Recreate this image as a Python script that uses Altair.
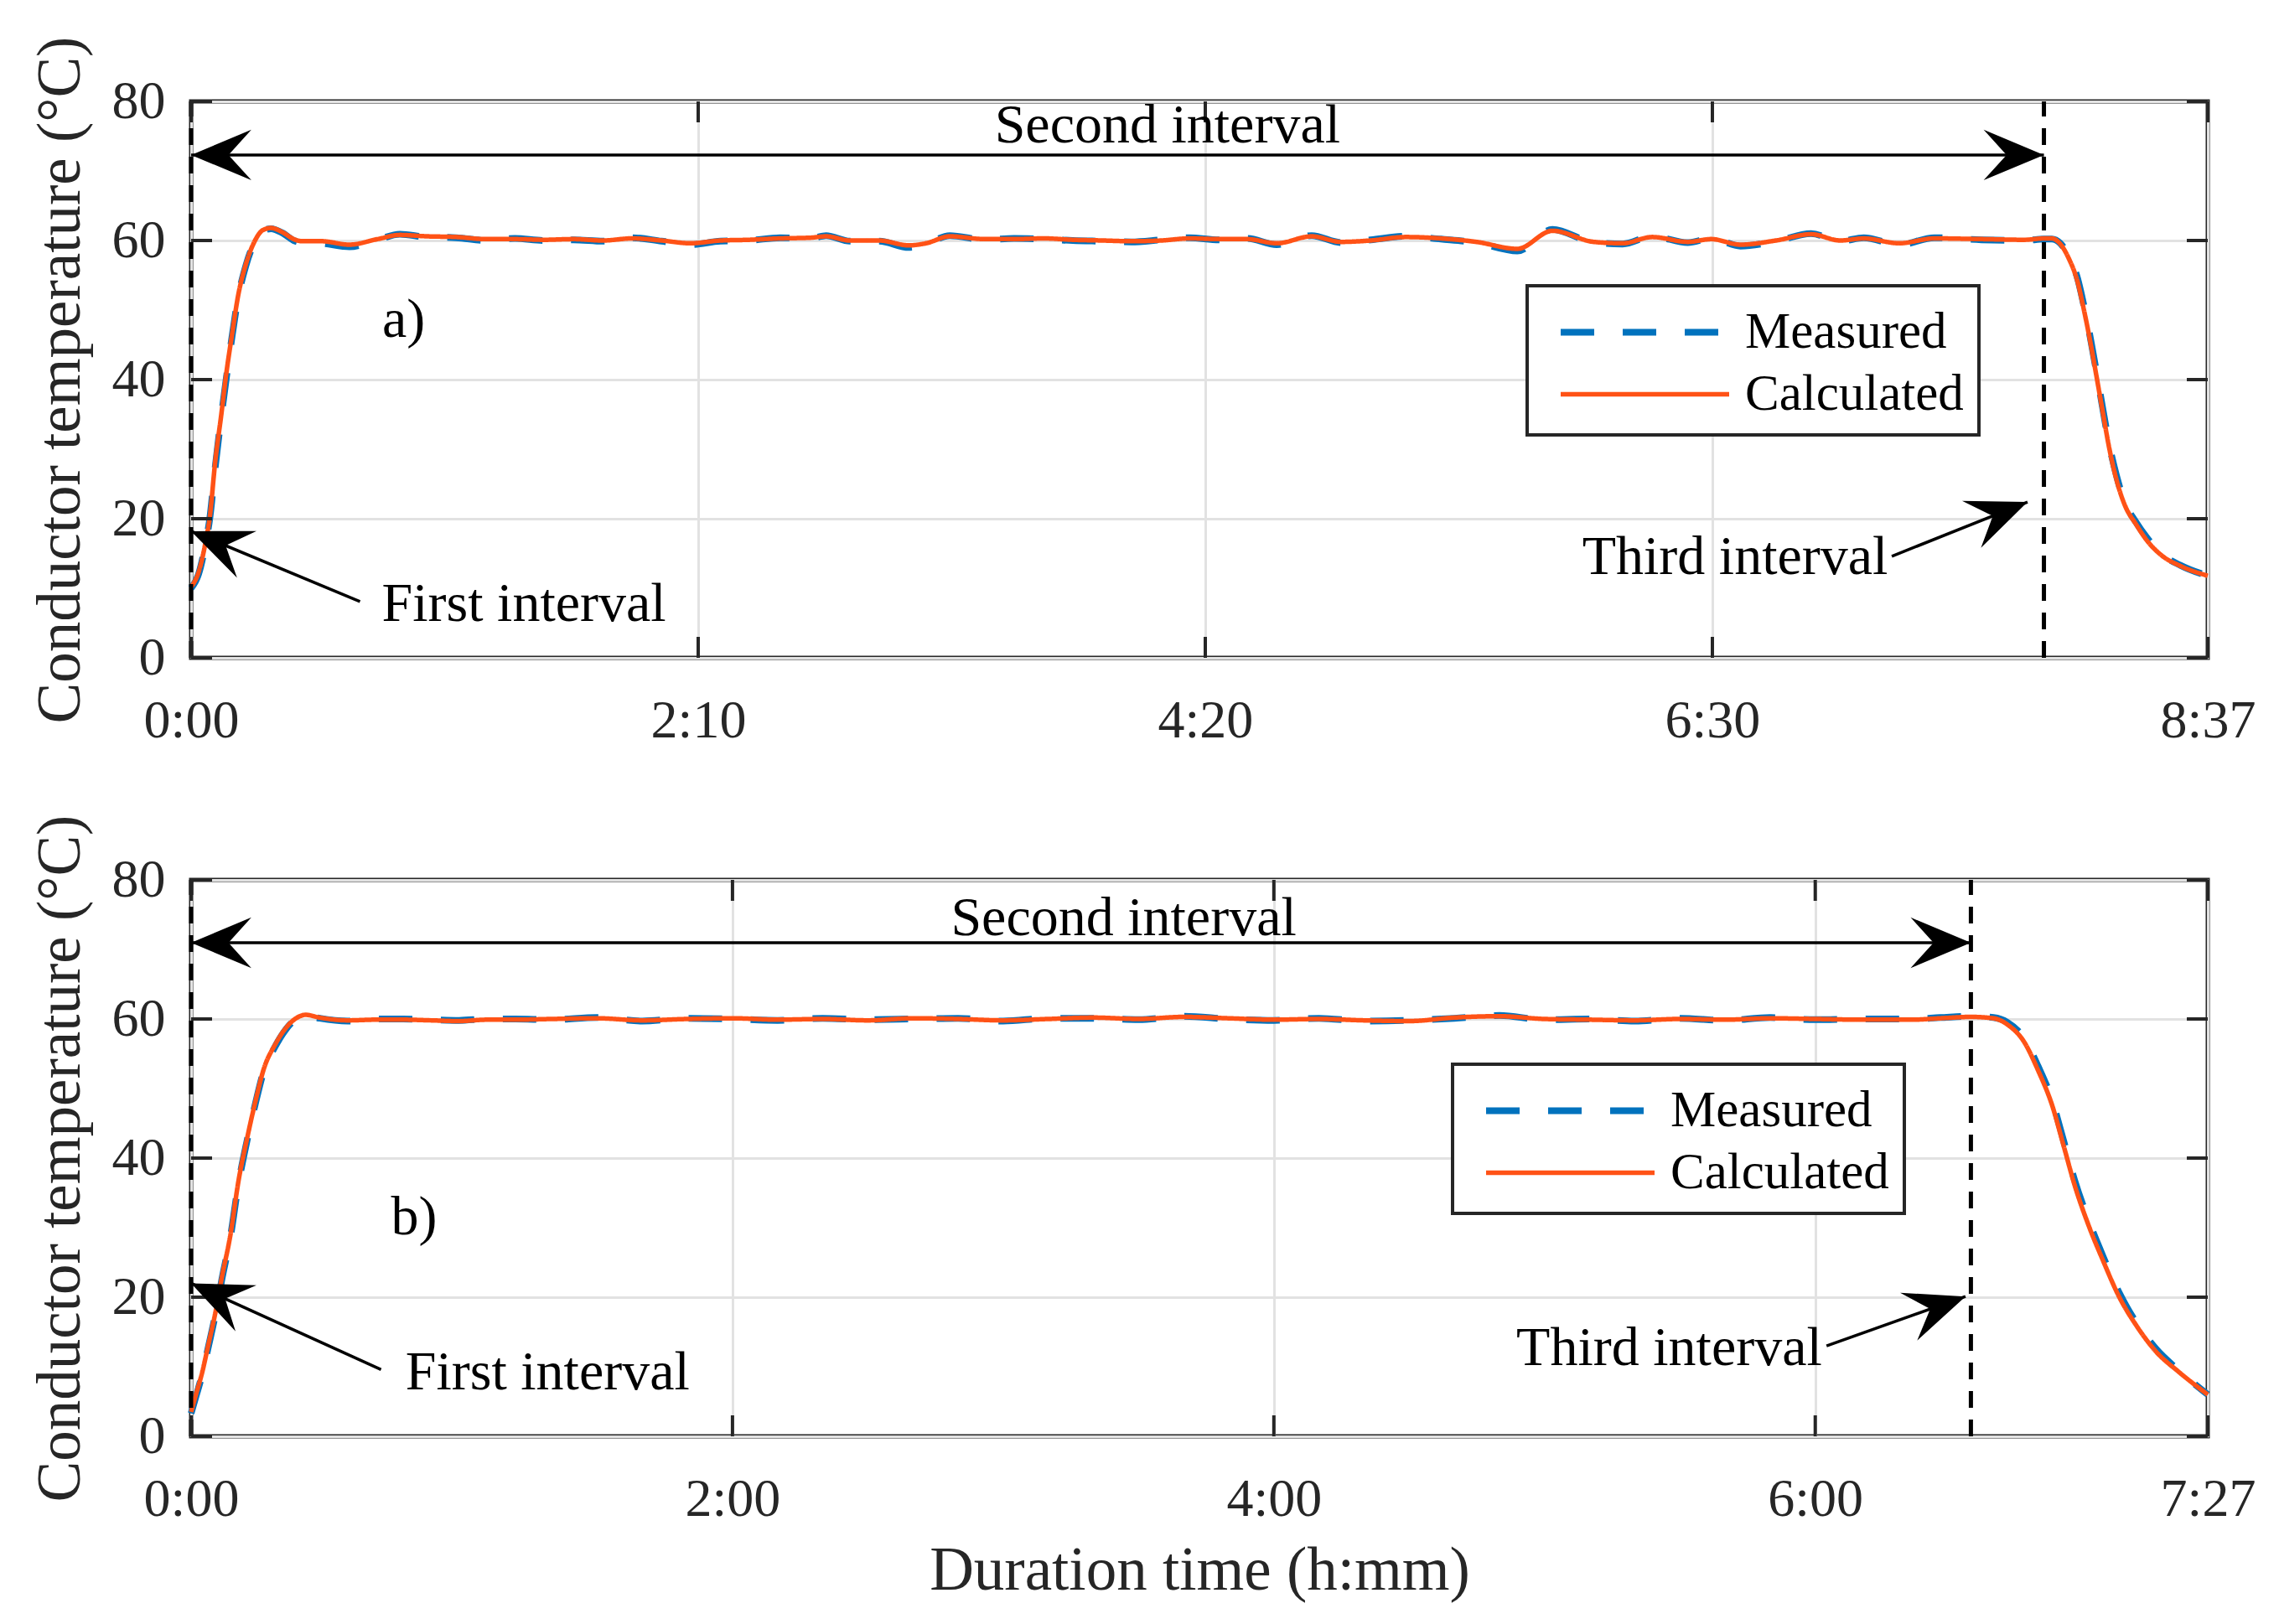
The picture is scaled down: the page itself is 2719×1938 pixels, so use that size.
import math
import altair as alt
import pandas as pd

FONT = "Liberation Serif"
W = 2406
H = 664
INK = "#262626"
SERIES = ["Measured", "Calculated"]
COLORS = ["#0072BD", "#FF5216"]
DASHES = [[40, 34], [1, 0]]
WIDTHS = [8, 5.5]
Y_TICKS = [0, 20, 40, 60, 80]
Y_TITLE = "Conductor temperature (°C)"
X_TITLE = "Duration time (h:mm)"

# ---------------- panel a ----------------
a_t = [0, 1.9, 3.7, 4.8, 6.2, 7.7, 9.1, 10.5, 12.0, 14.1, 16.3, 18.4, 20.5, 23.4, 26.3, 28.4,
       33.4, 40.6, 47.8, 53.5, 60.4, 68, 75.5, 83, 90.5, 98, 105.6, 113, 120.6, 128, 135.7, 143,
       151, 158.7, 162.8, 168.9, 176.4, 184, 188.4, 194.5, 203.5, 211, 218.6, 226, 233.6, 241,
       248.7, 256, 263.5, 270.7, 278.3, 287.3, 294.8, 302.4, 311.4, 320.4, 329.5, 340, 349,
       359.6, 367, 374.6, 383.7, 389.7, 397.2, 406.3, 415.3, 422.8, 428.8, 437.9, 446.9, 459,
       470, 475, 477, 479.2, 481.3, 483.5, 485.3, 487.1, 488.5, 490, 491.8, 493.6, 495.7, 498.6,
       501.5, 505, 510, 517]
a_calc = [10.2, 12.3, 16.6, 20.3, 28.3, 34.8, 41.2, 46.5, 51.9, 56.7, 59.9, 61.5, 61.8, 61.2,
          60.2, 59.9, 59.9, 59.4, 60.2, 60.8, 60.6, 60.5, 60.2, 60.2, 60.1, 60.2, 60.0, 60.3,
          60.0, 59.6, 60.0, 60.1, 60.3, 60.4, 60.6, 60.0, 60.0, 59.3, 59.6, 60.6, 60.2, 60.2,
          60.3, 60.1, 60.0, 59.9, 60.0, 60.3, 60.2, 60.2, 59.6, 60.6, 59.8, 60.0, 60.5, 60.3,
          59.8, 58.8, 61.4, 59.8, 59.6, 60.5, 59.8, 60.2, 59.4, 60.0, 60.9, 60.0, 60.3, 59.6,
          60.3, 60.2, 60.1, 60.3, 60.3, 59.5, 57.5, 54.3, 49.9, 44.8, 40.4, 35.6, 30.0, 25.6,
          22.0, 19.2, 16.8, 14.8, 13.2, 11.8]
a_meas = [10.0, 12.0, 16.4, 20.1, 27.5, 34.5, 40.5, 46.2, 51.6, 56.5, 59.8, 61.4, 61.7, 61.1,
          60.0, 59.7, 59.6, 59.1, 60.1, 60.9, 60.5, 60.4, 60.0, 60.3, 60.0, 60.1, 59.9, 60.4,
          59.9, 59.4, 59.9, 60.0, 60.4, 60.3, 60.7, 59.9, 59.9, 59.0, 59.5, 60.7, 60.1, 60.3,
          60.2, 60.0, 59.9, 59.8, 60.1, 60.4, 60.1, 60.3, 59.4, 60.7, 59.7, 60.1, 60.6, 60.2,
          59.7, 58.5, 61.6, 59.7, 59.5, 60.6, 59.7, 60.3, 59.2, 59.9, 61.0, 59.9, 60.4, 59.4,
          60.4, 60.1, 60.0, 60.2, 60.2, 59.6, 57.8, 54.8, 50.5, 45.4, 41.0, 36.1, 30.5, 26.2,
          22.4, 19.5, 17.2, 15.0, 13.3, 11.8]
a_xticks = [0, 130, 260, 390, 517]
a_xlabels = ["0:00", "2:10", "4:20", "6:30", "8:37"]
a_info = dict(xmax=517, third=475, arrow_y=72.3,
              second=(250.3, 76.5), tag=(54.5, 48.5), tag_text="a)",
              first_text=(48.9, 7.7), first_tail=(43.3, 8.1), first_tip=(0, 18.2),
              third_text=(435, 14.5), third_tail=(436, 14.6), third_tip=(470.8, 22.4),
              legend=(1594, 220))

# ---------------- panel b ----------------
b_t = [0, 1.2, 2.5, 3.7, 5.6, 6.8, 8.7, 10.5, 12.4, 14.2, 16.1, 18.6, 21.0, 23.5, 25.4, 28.5,
       34.7, 40.9, 47.0, 53.3, 59.4, 65.6, 71.8, 80, 90, 100, 110, 120, 130, 140, 150, 160,
       170, 180, 190, 200, 210, 220, 230, 240, 250, 260, 270, 280, 290, 300, 310, 320, 330,
       340, 350, 360, 370, 381.5, 387.7, 394.5, 399.5, 402.6, 406.3, 409.4, 412.5, 415.0,
       417.5, 420.6, 423.7, 427.4, 431.2, 435.5, 440.5, 447]
b_calc = [3.5, 6.3, 9.3, 12.8, 18.5, 22.8, 28.9, 36.7, 42.8, 48.0, 52.8, 56.3, 58.7, 60.2,
          60.6, 60.2, 59.8, 59.9, 59.9, 59.8, 59.7, 59.9, 59.9, 60.0, 60.1, 59.8, 60.0, 60.1,
          59.9, 60.0, 59.8, 60.1, 60.0, 59.8, 60.0, 60.2, 60.0, 60.3, 60.1, 59.9, 60.0, 59.8,
          59.7, 60.2, 60.4, 60.0, 59.9, 59.8, 60.0, 59.9, 60.1, 60.0, 59.9, 59.9, 60.1, 60.3,
          60.1, 59.2, 56.7, 52.6, 47.6, 41.9, 36.1, 30.3, 25.4, 20.0, 15.9, 12.2, 9.3, 6.0]
b_meas = [3.3, 6.0, 9.0, 12.5, 18.2, 22.5, 28.6, 36.3, 42.5, 47.7, 52.5, 56.0, 58.5, 60.1,
          60.5, 60.1, 59.7, 60.0, 60.0, 59.9, 59.8, 60.0, 60.0, 59.9, 60.2, 59.7, 60.1, 60.0,
          59.8, 60.1, 59.9, 60.0, 60.1, 59.7, 60.1, 60.1, 59.9, 60.4, 60.0, 59.8, 60.1, 59.7,
          59.8, 60.1, 60.5, 59.9, 60.0, 59.7, 60.1, 59.8, 60.2, 59.9, 60.0, 60.0, 60.2, 60.4,
          60.2, 59.5, 57.2, 53.2, 48.3, 42.6, 36.8, 31.0, 26.0, 20.6, 16.3, 12.6, 9.5, 6.0]
b_xticks = [0, 120, 240, 360, 447]
b_xlabels = ["0:00", "2:00", "4:00", "6:00", "7:27"]
b_info = dict(xmax=447, third=394.5, arrow_y=70.96,
              second=(206.7, 74.5), tag=(49.4, 31.4), tag_text="b)",
              first_text=(47.5, 9.2), first_tail=(42.1, 9.6), first_tip=(0, 22.0),
              third_text=(361.5, 12.6), third_tail=(362.5, 13.0), third_tip=(393.3, 20.1),
              legend=(1505, 220))

ARROW = "M0,0 L-1,-0.42 L-0.62,0 L-1,0.42 Z"
ARROW_SIZE = 20700
TICK_LEN = 25
# legend symbol: a horizontal line 6 units long (3x the nominal symbol size)
LEG_SYMBOL = "M-3,0 L3,0"
LEG_SIZE = 4489  # sqrt -> 67 px nominal, line drawn 201 px long


def label_expr(ticks, labels):
    expr = "''"
    for v, l in reversed(list(zip(ticks, labels))):
        expr = f"datum.value == {v} ? '{l}' : ({expr})"
    return expr


def head_angle(tail, tip, xmax):
    dx = (tip[0] - tail[0]) * W / xmax
    dy = -(tip[1] - tail[1]) * H / 80
    return math.degrees(math.atan2(dy, dx)) % 360


def panel(t, meas, calc, xticks, xlabels, info, bottom):
    xmax = info["xmax"]
    xs = alt.Scale(domain=[0, xmax], nice=False, zero=False)
    ys = alt.Scale(domain=[0, 80], nice=False)
    xaxis = alt.Axis(values=xticks, labelExpr=label_expr(xticks, xlabels), labelPadding=43,
                     titlePadding=17, labelFlush=False, labelOverlap=False)
    yaxis = alt.Axis(values=Y_TICKS, labelPadding=31, titlePadding=24)
    xtitle = X_TITLE if bottom else None
    lg = alt.Legend(title=None, orient="none", legendX=info["legend"][0], legendY=info["legend"][1],
                    symbolType=LEG_SYMBOL, symbolSize=LEG_SIZE, symbolStrokeWidth=5,
                    labelFont=FONT, labelFontSize=61, labelColor="black", labelOffset=82,
                    labelLimit=600, padding=18, symbolOffset=85, rowPadding=7,
                    fillColor="white", strokeColor=INK)
    df = pd.concat([
        pd.DataFrame({"t": t, "T": meas, "series": "Measured"}),
        pd.DataFrame({"t": t, "T": calc, "series": "Calculated"}),
    ])

    def X(f):
        return alt.X(f, scale=xs, axis=xaxis, title=xtitle)

    def Y(f):
        return alt.Y(f, scale=ys, axis=yaxis, title=Y_TITLE)

    def line(name):
        return alt.Chart(df[df["series"] == name]).mark_line(interpolate="monotone").encode(
            x=X("t:Q"),
            y=Y("T:Q"),
            color=alt.Color("series:N", scale=alt.Scale(domain=SERIES, range=COLORS), legend=lg),
            strokeDash=alt.StrokeDash("series:N", scale=alt.Scale(domain=SERIES, range=DASHES), legend=lg),
            strokeWidth=alt.StrokeWidth("series:N", scale=alt.Scale(domain=SERIES, range=WIDTHS), legend=lg),
        )

    # inward ticks
    ytdf = pd.DataFrame({"T": Y_TICKS})
    xtdf = pd.DataFrame({"t": xticks})
    tick_l = alt.Chart(ytdf).mark_rule(color=INK, strokeWidth=4).encode(
        y=Y("T:Q"), x=alt.value(0), x2=alt.value(TICK_LEN))
    tick_r = alt.Chart(ytdf).mark_rule(color=INK, strokeWidth=4).encode(
        y=Y("T:Q"), x=alt.value(W - TICK_LEN), x2=alt.value(W))
    tick_b = alt.Chart(xtdf).mark_rule(color=INK, strokeWidth=4).encode(
        x=X("t:Q"), y=alt.value(H - TICK_LEN), y2=alt.value(H))
    tick_t = alt.Chart(xtdf).mark_rule(color=INK, strokeWidth=4).encode(
        x=X("t:Q"), y=alt.value(0), y2=alt.value(TICK_LEN))

    vdf = pd.DataFrame({"t": [0, info["third"]], "T": [0, 0], "T1": [80, 80]})
    vlines = alt.Chart(vdf).mark_rule(color="black", strokeWidth=5, strokeDash=[20, 14]).encode(
        x=X("t:Q"), y=Y("T:Q"), y2="T1:Q")

    ddf = pd.DataFrame({"t": [0], "t1": [info["third"]], "T": [info["arrow_y"]]})
    darrow = alt.Chart(ddf).mark_rule(color="black", strokeWidth=3.5).encode(
        x=X("t:Q"), x2="t1:Q", y=Y("T:Q"))

    adf = pd.DataFrame({
        "t": [info["first_tail"][0], info["third_tail"][0]],
        "T": [info["first_tail"][1], info["third_tail"][1]],
        "t1": [info["first_tip"][0], info["third_tip"][0]],
        "T1": [info["first_tip"][1], info["third_tip"][1]],
    })
    alines = alt.Chart(adf).mark_rule(color="black", strokeWidth=3.5).encode(
        x=X("t:Q"), y=Y("T:Q"), x2="t1:Q", y2="T1:Q")

    hdf = pd.DataFrame({
        "t": [0, info["third"], info["first_tip"][0], info["third_tip"][0]],
        "T": [info["arrow_y"], info["arrow_y"], info["first_tip"][1], info["third_tip"][1]],
        "a": [180, 0, head_angle(info["first_tail"], info["first_tip"], xmax),
              head_angle(info["third_tail"], info["third_tip"], xmax)],
    })
    heads = alt.Chart(hdf).mark_point(shape=ARROW, filled=True, color="black", opacity=1,
                                      strokeWidth=0, size=ARROW_SIZE).encode(
        x=X("t:Q"), y=Y("T:Q"), angle=alt.Angle("a:Q", scale=None))

    cdf = pd.DataFrame({"t": [info["second"][0], info["tag"][0]],
                        "T": [info["second"][1], info["tag"][1]],
                        "s": ["Second interval", info["tag_text"]]})
    ctext = alt.Chart(cdf).mark_text(font=FONT, fontSize=66, color="black", align="center",
                                     baseline="middle").encode(x=X("t:Q"), y=Y("T:Q"), text="s:N")
    ldf = pd.DataFrame({"t": [info["first_text"][0]], "T": [info["first_text"][1]],
                        "s": ["First interval"]})
    ltext = alt.Chart(ldf).mark_text(font=FONT, fontSize=66, color="black", align="left",
                                     baseline="middle").encode(x=X("t:Q"), y=Y("T:Q"), text="s:N")
    rdf = pd.DataFrame({"t": [info["third_text"][0]], "T": [info["third_text"][1]],
                        "s": ["Third interval"]})
    rtext = alt.Chart(rdf).mark_text(font=FONT, fontSize=66, color="black", align="right",
                                     baseline="middle").encode(x=X("t:Q"), y=Y("T:Q"), text="s:N")

    return alt.layer(line("Measured"), line("Calculated"), vlines, tick_l, tick_r, tick_b, tick_t,
                     darrow, alines, heads, ctext, ltext, rtext).properties(width=W, height=H)


pa = panel(a_t, a_meas, a_calc, a_xticks, a_xlabels, a_info, False)
pb = panel(b_t, b_meas, b_calc, b_xticks, b_xlabels, b_info, True)

chart = alt.vconcat(pa, pb, spacing=74).resolve_scale(
    x="independent", color="independent", strokeDash="independent", strokeWidth="independent"
).resolve_legend(
    color="independent", strokeDash="independent", strokeWidth="independent"
).properties(
    padding={"left": 25, "top": 32, "right": 5, "bottom": 5}, background="white"
).configure_view(
    stroke=INK, strokeWidth=5
).configure_axis(
    domain=False, ticks=False, grid=True, gridColor="#e2e2e2", gridWidth=3,
    labelFont=FONT, labelFontSize=64, labelColor=INK,
    titleFont=FONT, titleFontSize=73, titleColor=INK, titleFontWeight="normal"
).configure_legend(strokeWidth=4)

chart.save("out.html", embed_options={"renderer": "svg", "actions": False})
